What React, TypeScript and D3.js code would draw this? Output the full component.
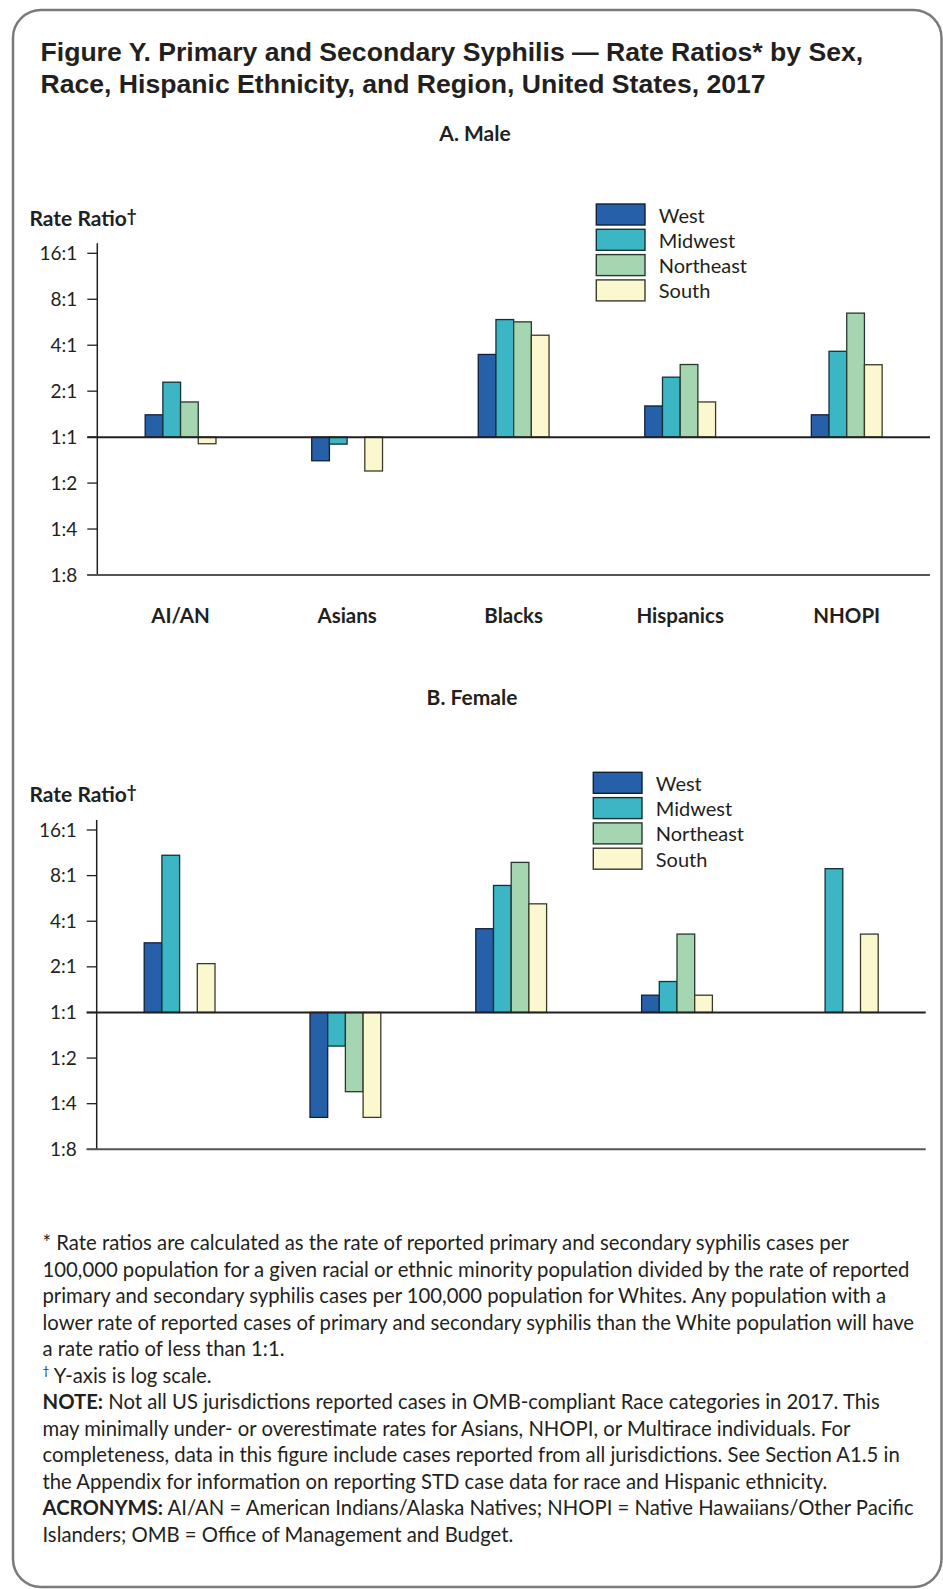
import React from "react";
import * as d3 from "d3";

const categories = ["AI/AN", "Asians", "Blacks", "Hispanics", "NHOPI"];
const regions = ["West", "Midwest", "Northeast", "South"];
const tickValues = [16, 8, 4, 2, 1, 0.5, 0.25, 0.125];
const tickLabels = ["16:1", "8:1", "4:1", "2:1", "1:1", "1:2", "1:4", "1:8"];

const maleWest = [1.4, 0.7, 3.48, 1.6, 1.4];
const maleMidwest = [2.29, 0.9, 5.89, 2.47, 3.65];
const maleNortheast = [1.7, null, 5.69, 2.99, 6.49];
const maleSouth = [0.905, 0.6, 4.65, 1.7, 2.98];

const femaleWest = [2.88, 0.203, 3.57, 1.3, null];
const femaleMidwest = [10.9, 0.6, 6.89, 1.6, 8.89];
const femaleNortheast = [null, 0.3, 9.78, 3.29, null];
const femaleSouth = [2.1, 0.203, 5.21, 1.3, 3.29];

const colors = ["#2660a9", "#3cb6c4", "#a6d6b1", "#fbf8d0"];
const strokes = ["#10203a", "#123238", "#28382c", "#3a3a2a"];

const footLines: { bold?: string; text: string; sup?: string }[] = [
  { text: "* Rate ratios are calculated as the rate of reported primary and secondary syphilis cases per" },
  { text: "100,000 population for a given racial or ethnic minority population divided by the rate of reported" },
  { text: "primary and secondary syphilis cases per 100,000 population for Whites. Any population with a" },
  { text: "lower rate of reported cases of  primary and secondary syphilis than the White population will have" },
  { text: "a rate ratio of less than 1:1." },
  { sup: "†", text: " Y-axis is log scale." },
  { bold: "NOTE:", text: " Not all US jurisdictions reported cases in OMB-compliant Race categories in 2017. This" },
  { text: "may minimally under- or overestimate rates for Asians, NHOPI, or Multirace individuals. For" },
  { text: "completeness, data in this figure include cases reported from all jurisdictions. See Section A1.5 in" },
  { text: "the Appendix for information on reporting STD case data for race and Hispanic ethnicity." },
  { bold: "ACRONYMS:", text: " AI/AN = American Indians/Alaska Natives; NHOPI = Native Hawaiians/Other Pacific" },
  { text: "Islanders; OMB = Office of Management and Budget." },
];

const FONT = "Lato, 'Open Sans', sans-serif";

type PanelProps = {
  title: string;
  titleX: number;
  titleY: number;
  series: (number | null)[][];
  x0: number;
  x1: number;
  yTop: number;
  yBottom: number;
  axisTop: number;
  labelY: number;
  legendX: number;
  legendY: number;
  showCats: boolean;
  catY: number;
};

function Panel(p: PanelProps) {
  const x = d3.scaleBand<string>().domain(categories).range([p.x0, p.x1]);
  const inner = d3.scaleBand<string>().domain(regions).range([-35.4, 35.4]);
  const y = d3.scaleLog().base(2).domain([0.125, 16]).range([p.yBottom, p.yTop]);
  const y1 = y(1);
  return (
    <g>
      <text x={p.titleX} y={p.titleY} textAnchor="middle" fontFamily={FONT} fontWeight={700} fontSize={21} fill="#231f20">
        {p.title}
      </text>
      <text x={29.5} y={p.labelY} fontFamily={FONT} fontWeight={700} fontSize={21} fill="#231f20">
        Rate Ratio<tspan fontSize={17} dy={-4}>†</tspan>
      </text>
      {tickValues.map((v, i) => (
        <g key={i}>
          <line x1={p.x0 - 10} x2={p.x0} y1={y(v)} y2={y(v)} stroke="#231f20" strokeWidth={1.3} />
          <text x={p.x0 - 20} y={y(v) + 6.5} textAnchor="end" fontFamily={FONT} fontSize={19} fill="#231f20">
            {tickLabels[i]}
          </text>
        </g>
      ))}
      {categories.map((c, ci) =>
        regions.map((r, ri) => {
          const v = p.series[ri][ci];
          if (v == null) return null;
          const bx = (x(c) as number) + x.bandwidth() / 2 + (inner(r) as number);
          const yv = y(v);
          return (
            <rect
              key={c + r}
              x={bx}
              y={Math.min(yv, y1)}
              width={inner.bandwidth()}
              height={Math.abs(yv - y1)}
              fill={colors[ri]}
              stroke={strokes[ri]}
              strokeWidth={1.3}
            />
          );
        })
      )}
      <line x1={p.x0} x2={p.x0} y1={p.axisTop} y2={p.yBottom} stroke="#231f20" strokeWidth={1.5} />
      <line x1={p.x0 - 10} x2={p.x1} y1={y1} y2={y1} stroke="#231f20" strokeWidth={2} />
      <line x1={p.x0 - 10} x2={p.x1} y1={p.yBottom} y2={p.yBottom} stroke="#555" strokeWidth={2} />
      {regions.map((r, ri) => (
        <g key={r}>
          <rect x={p.legendX} y={p.legendY + ri * 25.3} width={48.7} height={21} fill={colors[ri]} stroke={strokes[ri]} strokeWidth={1.4} />
          <text x={p.legendX + 62.5} y={p.legendY + ri * 25.3 + 18.5} fontFamily={FONT} fontSize={20} fill="#231f20">
            {r}
          </text>
        </g>
      ))}
      {p.showCats &&
        categories.map((c) => (
          <text key={c} x={(x(c) as number) + x.bandwidth() / 2} y={p.catY} textAnchor="middle" fontFamily={FONT} fontWeight={700} fontSize={20.5} fill="#231f20">
            {c}
          </text>
        ))}
    </g>
  );
}

export default function App() {
  return (
    <svg width={943} height={1589} style={{ position: "absolute", left: 0, top: 0, background: "#fff" }}>
      <rect x={13} y={10} width={928.5} height={1577} rx={28} ry={28} fill="#fff" stroke="#7a7a7a" strokeWidth={2.5} />
      <text x={40.5} y={61} fontFamily="'Liberation Sans', Arial, sans-serif" fontWeight={700} fontSize={26.6} fill="#231f20">
        Figure Y. Primary and Secondary Syphilis — Rate Ratios* by Sex,
      </text>
      <text x={40.5} y={92.5} fontFamily="'Liberation Sans', Arial, sans-serif" fontWeight={700} fontSize={26.6} fill="#231f20">
        Race, Hispanic Ethnicity, and Region, United States, 2017
      </text>
      <Panel
        title="A. Male"
        titleX={475}
        titleY={141}
        series={[maleWest, maleMidwest, maleNortheast, maleSouth]}
        x0={97.3}
        x1={930}
        yTop={253.3}
        yBottom={575}
        axisTop={243.3}
        labelY={226}
        legendX={596.3}
        legendY={204}
        showCats={true}
        catY={623}
      />
      <Panel
        title="B. Female"
        titleX={472}
        titleY={705}
        series={[femaleWest, femaleMidwest, femaleNortheast, femaleSouth]}
        x0={96.7}
        x1={925.7}
        yTop={830}
        yBottom={1149.3}
        axisTop={820}
        labelY={801.5}
        legendX={593.3}
        legendY={772.3}
        showCats={false}
        catY={0}
      />
      {footLines.map((l, i) => (
        <text key={i} x={42.5} y={1250 + i * 26.5} fontFamily={FONT} fontSize={20.3} fill="#231f20">
          {l.sup && (
            <tspan fontSize={12} dy={-8}>
              {l.sup}
            </tspan>
          )}
          {l.bold && <tspan fontWeight={700}>{l.bold}</tspan>}
          <tspan dy={l.sup ? 8 : 0}>{l.text}</tspan>
        </text>
      ))}
    </svg>
  );
}
